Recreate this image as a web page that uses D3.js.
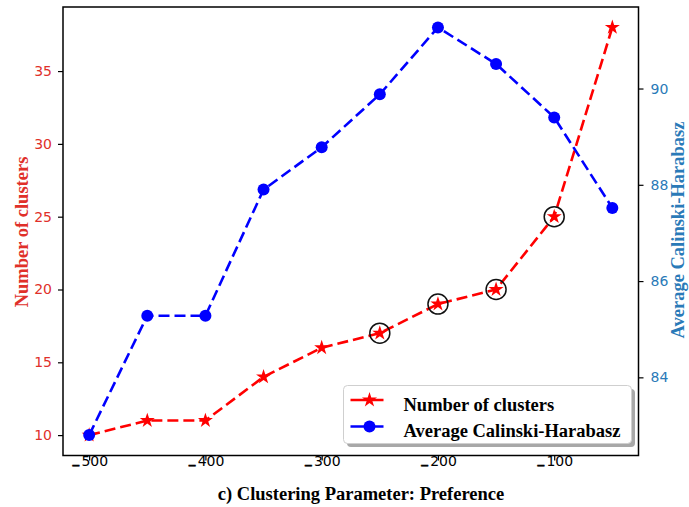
<!DOCTYPE html>
<html>
<head>
<meta charset="utf-8">
<script src="https://cdn.jsdelivr.net/npm/d3@7/dist/d3.min.js"></script>
<style>
  html, body { margin: 0; padding: 0; background: #fff; }
  svg { display: block; }
</style>
</head>
<body>
<script>
// Preference values swept by the clustering run
const preference = [-500, -450, -400, -350, -300, -250, -200, -150, -100, -50];
// Number of clusters found for each preference
const numClusters = [10, 11, 11, 14, 16, 17, 19, 20, 25, 38];
// Average Calinski-Harabasz score for each preference
const avgCH = [82.8, 85.28, 85.28, 87.9, 88.78, 89.88, 91.27, 90.51, 89.4, 87.52];
// Points highlighted with a ring
const highlighted = [-250, -200, -150, -100];

const xTicks = [-500, -400, -300, -200, -100];
const leftTicks = [10, 15, 20, 25, 30, 35];
const rightTicks = [84, 86, 88, 90];

const W = 689, H = 507;
const m = { left: 63, right: 638.5, top: 7, bottom: 455.5 };

const svg = d3.select("body").append("svg").attr("width", W).attr("height", H);

function padded(lo, hi) { const p = (hi - lo) * 0.05; return [lo - p, hi + p]; }

const x = d3.scaleLinear().domain(padded(d3.min(preference), d3.max(preference))).range([m.left, m.right]);
const yL = d3.scaleLinear().domain(padded(d3.min(numClusters), d3.max(numClusters))).range([m.bottom, m.top]);
const yR = d3.scaleLinear().domain(padded(d3.min(avgCH), d3.max(avgCH))).range([m.bottom, m.top]);

const RED = "#ff0000", BLUE = "#0000ff";
const LRED = "#e0302a", LBLUE = "#2a7ab8";
const tickFont = "'DejaVu Sans', sans-serif";
const serif = "'Liberation Serif', 'Times New Roman', serif";
const tickSize = "14px", titleSize = "18.5px";

// negative labels: a heavy minus sitting on the baseline
function signed(g) {
  g.selectAll(".tick text").each(function(d) {
    const t = d3.select(this).text("");
    if (d < 0) {
      t.append("tspan").attr("font-size", "11px").attr("font-weight", "bold")
        .attr("stroke", "#000").attr("stroke-width", 0.5)
        .attr("dy", "3.4").text("\u2212");
      t.append("tspan").attr("dx", "1").attr("dy", "-3.4").text(Math.abs(d));
    } else t.text(d);
  });
}

// bottom axis
const gx = svg.append("g").attr("transform", `translate(0,${m.bottom})`)
  .call(d3.axisBottom(x).tickValues(xTicks).tickSize(5).tickPadding(5).tickSizeOuter(0));
gx.select(".domain").remove();
gx.selectAll("line").attr("stroke", "#000").attr("stroke-width", 1.2);
gx.selectAll("text").attr("font-family", tickFont).attr("font-size", tickSize).attr("fill", "#000");
signed(gx);

// left axis
const gl = svg.append("g").attr("transform", `translate(${m.left},0)`)
  .call(d3.axisLeft(yL).tickValues(leftTicks).tickSize(5).tickPadding(6).tickSizeOuter(0));
gl.select(".domain").remove();
gl.selectAll("line").attr("stroke", "#000").attr("stroke-width", 1.2);
gl.selectAll("text").attr("font-family", tickFont).attr("font-size", tickSize).attr("fill", LRED);

// right axis
const gr = svg.append("g").attr("transform", `translate(${m.right},0)`)
  .call(d3.axisRight(yR).tickValues(rightTicks).tickSize(5).tickPadding(7).tickSizeOuter(0));
gr.select(".domain").remove();
gr.selectAll("line").attr("stroke", "#000").attr("stroke-width", 1.2);
gr.selectAll("text").attr("font-family", tickFont).attr("font-size", tickSize).attr("fill", LBLUE);

// frame
svg.append("rect").attr("x", m.left).attr("y", m.top)
  .attr("width", m.right - m.left).attr("height", m.bottom - m.top)
  .attr("fill", "none").attr("stroke", "#000").attr("stroke-width", 1.5);

const plot = svg.append("g");
const dash = "11,5";
const star = d3.symbol().type(d3.symbolStar).size(70);

// red series
const redData = preference.map((p, i) => [p, numClusters[i]]);
plot.append("path").datum(redData)
  .attr("d", d3.line().x(d => x(d[0])).y(d => yL(d[1])))
  .attr("fill", "none").attr("stroke", RED).attr("stroke-width", 2.6)
  .attr("stroke-dasharray", dash);
plot.selectAll(".rstar").data(redData).join("path")
  .attr("transform", d => `translate(${x(d[0])},${yL(d[1])})`)
  .attr("d", star).attr("fill", RED);

// blue series, drawn over the red one
const blueData = preference.map((p, i) => [p, avgCH[i]]);
plot.append("path").datum(blueData)
  .attr("d", d3.line().x(d => x(d[0])).y(d => yR(d[1])))
  .attr("fill", "none").attr("stroke", BLUE).attr("stroke-width", 2.6)
  .attr("stroke-dasharray", dash);
plot.selectAll(".bdot").data(blueData).join("circle")
  .attr("cx", d => x(d[0])).attr("cy", d => yR(d[1])).attr("r", 6).attr("fill", BLUE);

// rings around selected points
plot.selectAll(".ring").data(redData.filter(d => highlighted.includes(d[0]))).join("circle")
  .attr("cx", d => x(d[0])).attr("cy", d => yL(d[1])).attr("r", 10)
  .attr("fill", "none").attr("stroke", "#111").attr("stroke-width", 1.5);

// axis titles
svg.append("text").attr("transform", `translate(28,232) rotate(-90)`)
  .attr("text-anchor", "middle").attr("font-family", serif).attr("font-weight", "bold")
  .attr("font-size", titleSize).attr("fill", LRED).text("Number of clusters");
svg.append("text").attr("transform", `translate(684,230) rotate(-90)`)
  .attr("text-anchor", "middle").attr("font-family", serif).attr("font-weight", "bold")
  .attr("font-size", titleSize).attr("fill", LBLUE).text("Average Calinski-Harabasz");
svg.append("text").attr("x", 361).attr("y", 500)
  .attr("text-anchor", "middle").attr("font-family", serif).attr("font-weight", "bold")
  .attr("font-size", titleSize).attr("fill", "#000").text("c) Clustering Parameter: Preference");

// legend
const lg = svg.append("g").attr("transform", "translate(343.5,385.5)");
const lw = 288, lh = 58;
lg.append("rect").attr("x", 3.5).attr("y", 3.5).attr("width", lw).attr("height", lh)
  .attr("rx", 4).attr("fill", "#a8a8a8");
lg.append("rect").attr("x", 0).attr("y", 0).attr("width", lw).attr("height", lh)
  .attr("rx", 4).attr("fill", "#fff").attr("stroke", "#cfcfcf").attr("stroke-width", 1);
const entries = [
  { label: "Number of clusters", color: RED, kind: "star" },
  { label: "Average Calinski-Harabasz", color: BLUE, kind: "dot" }
];
entries.forEach((e, i) => {
  const cy = 14.5 + i * 26.5;
  lg.append("line").attr("x1", 7).attr("x2", 40).attr("y1", cy).attr("y2", cy)
    .attr("stroke", e.color).attr("stroke-width", 2.6);
  if (e.kind === "star") {
    lg.append("path").attr("transform", `translate(26,${cy})`).attr("d", star).attr("fill", e.color);
  } else {
    lg.append("circle").attr("cx", 26).attr("cy", cy).attr("r", 6).attr("fill", e.color);
  }
  lg.append("text").attr("x", 60).attr("y", cy + 10.5)
    .attr("font-family", serif).attr("font-weight", "bold").attr("font-size", titleSize)
    .attr("fill", "#000").text(e.label);
});
</script>
</body>
</html>
